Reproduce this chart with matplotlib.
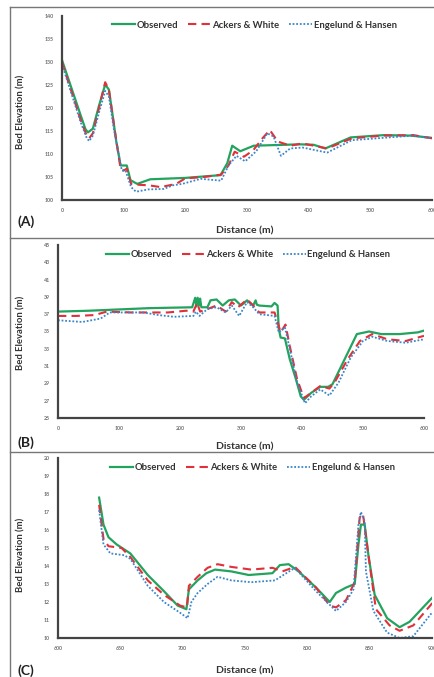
import matplotlib
matplotlib.use("Agg")
import matplotlib.pyplot as plt
from matplotlib.lines import Line2D

plt.rcParams['font.family'] = ['Lato', 'DejaVu Sans']

# ---- panel A ----
a_obs_x = [0, 30, 38, 42, 50, 60, 70, 76, 82, 88, 95, 105, 111, 122, 143, 200, 257, 268, 276, 289, 311, 386, 408, 427, 468, 522, 565, 600]
a_obs_y = [130.4, 118.5, 115.4, 114.7, 115.5, 120.5, 125.1, 124.0, 118.5, 112.7, 107.5, 107.5, 104.3, 103.5, 104.5, 104.8, 105.4, 108.0, 111.8, 110.6, 111.8, 112.1, 112.0, 111.2, 113.6, 114.1, 114.0, 113.5]
a_aw_x = [0, 30, 40, 44, 50, 60, 70, 76, 84, 95, 100, 105, 112, 125, 140, 160, 185, 200, 230, 258, 270, 280, 295, 310, 325, 337, 350, 370, 390, 430, 470, 520, 570, 600]
a_aw_y = [129.9, 117.5, 114.0, 113.4, 114.5, 120.0, 125.6, 124.0, 116.5, 106.8, 106.4, 106.8, 103.5, 103.3, 103.2, 102.8, 103.5, 104.7, 105.0, 105.5, 107.5, 110.5, 109.4, 110.8, 113.4, 115.2, 112.7, 111.8, 112.3, 111.2, 113.4, 114.0, 114.1, 113.4]
a_eh_x = [0, 30, 40, 44, 50, 60, 70, 76, 84, 97, 103, 112, 120, 140, 165, 180, 195, 225, 258, 270, 283, 297, 315, 333, 343, 355, 370, 390, 430, 470, 520, 570, 600]
a_eh_y = [129.5, 117.0, 113.5, 112.8, 114.0, 119.0, 123.7, 122.5, 115.5, 106.4, 106.4, 102.8, 101.8, 102.3, 102.4, 103.2, 103.5, 104.6, 104.2, 107.5, 109.6, 108.4, 110.6, 114.5, 113.8, 109.6, 111.2, 111.4, 110.3, 113.0, 113.5, 114.0, 113.4]

# ---- panel B ----
b_obs_x = [0, 50, 150, 220, 225, 227, 229, 231, 233, 235, 245, 250, 260, 270, 280, 290, 300, 310, 320, 324, 326, 330, 350, 355, 360, 362, 365, 372, 380, 390, 398, 403, 415, 430, 443, 450, 470, 490, 510, 530, 560, 590, 600]
b_obs_y = [37.3, 37.4, 37.7, 37.8, 38.9, 37.9, 38.9, 38.0, 38.8, 37.8, 37.8, 38.6, 38.7, 38.0, 38.6, 38.7, 38.0, 38.6, 38.0, 38.6, 38.1, 38.0, 37.9, 38.3, 38.0, 35.3, 34.3, 34.2, 31.8, 29.5, 27.5, 27.1, 27.9, 28.6, 28.6, 28.9, 31.8, 34.7, 35.0, 34.7, 34.7, 34.9, 35.1]
b_aw_x = [0, 30, 60, 80, 120, 150, 180, 210, 222, 228, 233, 245, 260, 275, 285, 295, 310, 320, 330, 355, 360, 365, 373, 380, 392, 403, 415, 430, 445, 455, 475, 495, 515, 540, 570, 600]
b_aw_y = [36.8, 36.8, 36.9, 37.3, 37.2, 37.2, 37.2, 37.4, 37.3, 38.3, 37.3, 37.6, 38.0, 37.3, 38.4, 37.8, 38.7, 38.0, 37.2, 37.2, 36.1, 34.9, 35.8, 33.3, 29.5, 27.3, 27.9, 28.7, 28.4, 29.3, 31.8, 33.9, 34.7, 34.1, 33.9, 34.5]
b_eh_x = [0, 40, 70, 85, 140, 165, 190, 222, 226, 232, 245, 260, 275, 285, 297, 310, 320, 330, 355, 362, 372, 380, 392, 405, 415, 430, 445, 460, 480, 500, 515, 540, 570, 600]
b_eh_y = [36.3, 36.1, 36.5, 37.2, 37.2, 36.9, 36.7, 36.8, 37.3, 36.8, 37.6, 37.8, 37.2, 38.0, 36.8, 38.4, 37.8, 37.0, 36.8, 34.9, 35.5, 33.0, 29.1, 26.7, 27.5, 28.3, 27.6, 29.1, 32.0, 33.9, 34.4, 33.9, 33.7, 34.1]

# ---- panel C ----
c_obs_x = [633, 636.5, 640.5, 647, 658, 672, 685, 696, 703, 705, 712, 719, 726, 739, 753, 772, 778, 785, 793, 807, 818, 823, 831, 838, 841, 843, 846, 849, 854, 864, 874, 882, 901]
c_obs_y = [17.8, 16.3, 15.6, 15.2, 14.7, 13.5, 12.6, 11.8, 11.6, 12.7, 13.2, 13.6, 13.8, 13.7, 13.5, 13.6, 14.05, 14.1, 13.7, 12.8, 12.0, 12.5, 12.8, 13.0, 15.2, 16.3, 16.3, 14.6, 12.4, 11.1, 10.6, 10.9, 12.3]
c_aw_x = [633, 636.5, 640.5, 651, 658, 672, 685, 698, 703.5, 705, 712, 720, 728, 739, 755, 772, 780, 790, 807, 818, 823, 831, 838, 842, 844.6, 849, 855, 866, 874, 885, 901]
c_aw_y = [17.4, 15.5, 15.1, 15.0, 14.5, 13.2, 12.4, 11.8, 11.7, 12.9, 13.4, 13.9, 14.1, 13.95, 13.8, 13.9, 13.7, 13.95, 12.8, 11.8, 11.7, 12.1, 13.1, 16.7, 16.9, 14.6, 11.6, 10.7, 10.4, 10.7, 12.0]
c_eh_x = [633, 636.5, 642, 653, 658, 672, 685, 698, 704, 707, 712, 720, 728, 739, 755, 774, 790, 807, 823, 831, 837, 841, 843, 846, 847, 853, 864, 874, 885, 901]
c_eh_y = [17.1, 15.2, 14.7, 14.6, 14.4, 12.9, 12.0, 11.4, 11.1, 12.0, 12.5, 13.0, 13.4, 13.2, 13.1, 13.2, 13.9, 12.6, 11.5, 12.0, 12.7, 16.3, 17.0, 16.5, 13.7, 11.5, 10.3, 10.0, 10.1, 11.5]

panels = [
    dict(tag='(A)', pos=[0.1429, 0.7046, 0.8525, 0.2718], xlim=(0, 600), xt=range(0, 601, 100),
         ylim=(100, 140), yt=range(100, 141, 5),
         data=[(a_obs_x, a_obs_y), (a_aw_x, a_aw_y), (a_eh_x, a_eh_y)],
         tag_y=222, xl_y=231, yl_y=112),
    dict(tag='(B)', pos=[0.1336, 0.3826, 0.8433, 0.2555], xlim=(0, 600), xt=range(0, 601, 100),
         ylim=(25, 45), yt=range(25, 46, 2),
         data=[(b_obs_x, b_obs_y), (b_aw_x, b_aw_y), (b_eh_x, b_eh_y)],
         tag_y=443, xl_y=447, yl_y=333),
    dict(tag='(C)', pos=[0.1336, 0.0576, 0.8618, 0.2659], xlim=(600, 900), xt=range(600, 901, 50),
         ylim=(10, 20), yt=range(10, 21, 1),
         data=[(c_obs_x, c_obs_y), (c_aw_x, c_aw_y), (c_eh_x, c_eh_y)],
         tag_y=671, xl_y=671, yl_y=555),
]

names = ['Observed', 'Ackers & White', 'Engelund & Hansen']
styles = [dict(color='#22a35e', ls='-', lw=1.6),
          dict(color='#e0303a', ls=(0, (4, 2.5)), lw=1.5),
          dict(color='#3a86c8', ls=(0, (1, 1)), lw=1.3)]

W, H = 434, 677
fig = plt.figure(figsize=(W / 100, H / 100), dpi=100)

for p in panels:
    ax = fig.add_axes(p['pos'])
    for (x, y), name, st in zip(p['data'], names, styles):
        ax.plot(x, y, label=name, solid_joinstyle='round', dash_joinstyle='round', **st)
    ax.set_xlim(*p['xlim'])
    ax.set_ylim(*p['ylim'])
    ax.set_xticks(list(p['xt']))
    ax.set_yticks(list(p['yt']))
    ax.tick_params(length=0, labelsize=3.8, labelcolor='#707070', pad=6)
    for lab in ax.get_xticklabels() + ax.get_yticklabels():
        lab.set_fontweight('bold')
    for s in ['top', 'right']:
        ax.spines[s].set_visible(False)
    for s in ['left', 'bottom']:
        ax.spines[s].set_color('#444444')
        ax.spines[s].set_linewidth(1.6)
    ax.legend(loc='upper center', bbox_to_anchor=(0.52, 1.02), ncol=3, frameon=False,
              prop=dict(weight='bold', size=6.8), handlelength=2.4, handletextpad=0.2,
              columnspacing=1.0, labelcolor='#333333')

    fig.text(18 / W, 1 - p['tag_y'] / H, p['tag'], fontsize=10, fontweight='bold',
             color='#222222', ha='left', va='center')
    fig.text(245 / W, 1 - p['xl_y'] / H, 'Distance (m)', fontsize=7.5, fontweight='bold',
             color='#333333', ha='center', va='center')
    fig.text(21 / W, 1 - p['yl_y'] / H, 'Bed Elevation (m)', fontsize=6.8, fontweight='bold',
             color='#333333', ha='center', va='center', rotation=90)

# frame lines around the panels
for y in [7, 238, 452]:
    fig.add_artist(Line2D([10 / W, 1], [1 - y / H, 1 - y / H], color='#777777', lw=1.0))
fig.add_artist(Line2D([10 / W, 10 / W], [0, 1 - 7 / H], color='#777777', lw=1.0))

fig.savefig('out.png', dpi=100)
